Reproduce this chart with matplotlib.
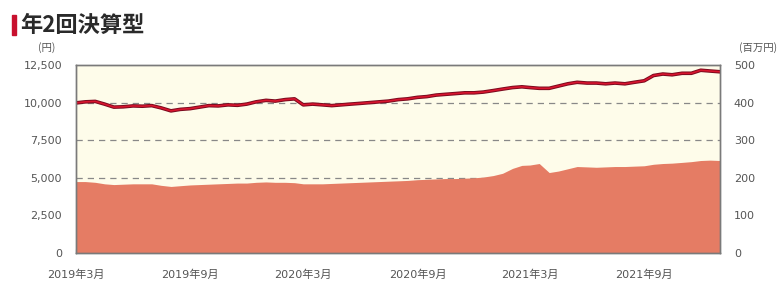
import matplotlib
matplotlib.use("Agg")
import matplotlib.pyplot as plt
import pandas as pd
import numpy as np

plt.rcParams['font.family'] = ['DejaVu Sans', 'Noto Sans CJK JP']

# semi-monthly observations from 2019-03-01
nav = [9980, 10050, 10080, 9900, 9700, 9720, 9780, 9760, 9800, 9650,
       9450, 9550, 9600, 9700, 9800, 9780, 9850, 9820, 9900, 10050,
       10150, 10100, 10200, 10250, 9850, 9900, 9850, 9800, 9850, 9900,
       9950, 10000, 10050, 10100, 10200, 10250, 10350, 10400, 10500, 10550,
       10600, 10650, 10650, 10700, 10800, 10900, 11000, 11050, 11000, 10950,
       10950, 11100, 11250, 11350, 11300, 11300, 11250, 11300, 11250, 11350,
       11450, 11800, 11900, 11850, 11950, 11950, 12150, 12100, 12050]
assets = [190, 190, 188, 184, 182, 183, 184, 184, 184, 180,
          177, 179, 181, 182, 183, 184, 185, 186, 186, 188,
          189, 188, 188, 187, 184, 184, 184, 185, 186, 187,
          188, 189, 190, 191, 192, 193, 195, 196, 197, 198,
          198, 199, 200, 202, 206, 212, 225, 233, 234, 238,
          214, 218, 224, 230, 229, 228, 229, 230, 230, 231,
          232, 236, 238, 239, 241, 243, 246, 247, 246]

dates = []
for i in range(len(nav)):
    m = pd.Timestamp('2019-03-01') + pd.DateOffset(months=i // 2)
    dates.append(m + pd.Timedelta(days=15 * (i % 2)))
dates = pd.to_datetime(dates)

left_ticks = [0, 2500, 5000, 7500, 10000, 12500]
left_labels = ['0', '2,500', '5,000', '7,500', '10,000', '12,500']
right_ticks = [0, 100, 200, 300, 400, 500]
x_tick_dates = ['2019-03-01', '2019-09-01', '2020-03-01', '2020-09-01', '2021-03-01', '2021-09-01']
x_tick_labels = ['2019年3月', '2019年9月', '2020年3月', '2020年9月', '2021年3月', '2021年9月']

fig = plt.figure(figsize=(7.84, 2.82), dpi=100)
ax = fig.add_axes([0.0969, 0.1028, 0.8214, 0.6667])
ax2 = ax.twinx()

ax.set_facecolor('#fefcea')
ax.set_zorder(ax2.get_zorder() - 1)
ax2.patch.set_visible(False)

for v in [5000, 7500, 10000]:
    ax.axhline(v, color='#888888', lw=0.9, ls=(0, (5, 4)), zorder=1)

scale = 12500 / 500
ax.fill_between(dates, 0, np.array(assets) * scale, color='#e57c64', lw=0, zorder=2)
ax.plot(dates, nav, color='#7a0a1e', lw=2.6, zorder=3, solid_joinstyle='round')
ax.plot(dates, nav, color='#d8142e', lw=1.2, zorder=4, solid_joinstyle='round')

ax.set_ylim(0, 12500)
ax2.set_ylim(0, 500)
ax.set_xlim(dates[0], dates[-1])

ax.set_yticks(left_ticks)
ax.set_yticklabels(left_labels)
ax2.set_yticks(right_ticks)
ax.set_xticks(pd.to_datetime(x_tick_dates))
ax.set_xticklabels(x_tick_labels)

for a in (ax, ax2):
    for s in a.spines.values():
        s.set_color('#7a7a7a')
        s.set_linewidth(1.0)
ax.tick_params(axis='y', length=0, labelsize=8, colors='#555555', pad=10)
ax2.tick_params(axis='y', length=0, labelsize=8, colors='#555555', pad=10)
ax.tick_params(axis='x', length=3, direction='in', labelsize=8, colors='#555555', pad=12)

fig.patches.append(plt.Rectangle((0.0153, 0.876), 0.0051, 0.071, transform=fig.transFigure,
                                 color='#c8102e', figure=fig))
fig.text(0.026, 0.911, '年2回決算型', fontsize=16, fontweight='bold', color='#2a2a2a',
         va='center', ha='left', family=['Noto Sans CJK JP'])
fig.text(0.059, 0.830, '(円)', fontsize=7.5, color='#555555', ha='center', va='center',
         family=['Noto Sans CJK JP'])
fig.text(0.967, 0.830, '(百万円)', fontsize=7.5, color='#555555', ha='center', va='center',
         family=['Noto Sans CJK JP'])

fig.savefig('out.png', dpi=100)
